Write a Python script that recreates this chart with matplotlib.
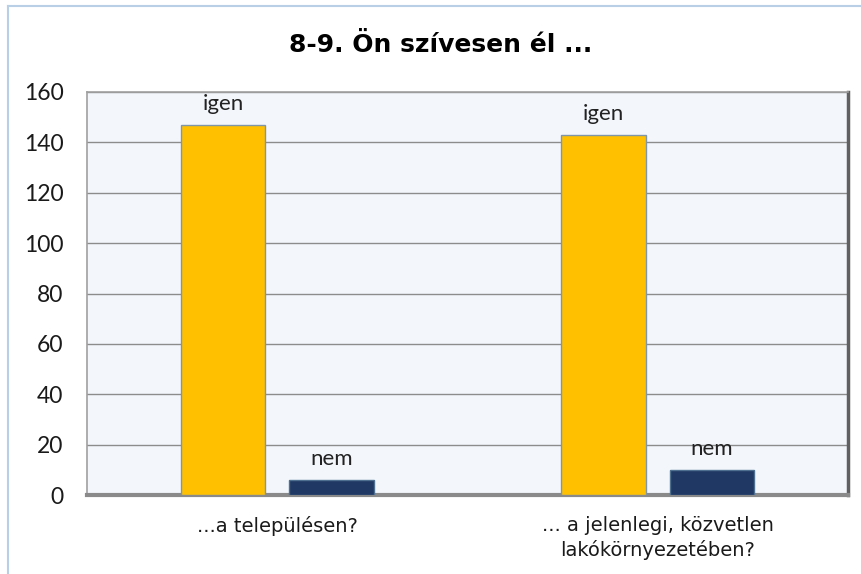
import matplotlib.pyplot as plt
from matplotlib.lines import Line2D
import numpy as np

# data
categories = ['...a településen?', '... a jelenlegi, közvetlen\nlakókörnyezetében?']
igen_values = [147, 143]
nem_values = [6, 10]
series_labels = ['igen', 'nem']
yticks = [0, 20, 40, 60, 80, 100, 120, 140, 160]

fig = plt.figure(figsize=(8.62, 5.74), dpi=100)
ax = fig.add_axes([87 / 862, 1 - 495 / 574, (848 - 87) / 862, (495 - 92) / 574])

x = np.arange(len(categories))
width = 0.222
off = 0.142

ax.set_facecolor('#f3f7fc')
ax.grid(axis='y', color='#8c8c8c', linewidth=1.0, zorder=0)
ax.set_axisbelow(True)

b1 = ax.bar(x - off, igen_values, width, color='#ffc000', edgecolor='#7f95a8',
            linewidth=1.0, zorder=3)
b2 = ax.bar(x + off, nem_values, width, color='#1f3864', edgecolor='#4f6f90',
            linewidth=1.0, zorder=3)

# labels above bars
for bars, lab in zip([b1, b2], series_labels):
    for r in bars:
        ax.annotate(lab, (r.get_x() + r.get_width() / 2, r.get_height()),
                    xytext=(0, 8), textcoords='offset points', ha='center', va='bottom',
                    fontsize=16, family='Lato', color='#222222', zorder=4)

ax.set_xlim(-0.5, 1.5)
ax.set_ylim(0, 160)
ax.set_yticks(yticks)
ax.set_yticklabels([str(v) for v in yticks], fontsize=16.5, family='Lato', color='#1a1a1a')
ax.set_xticks(x)
ax.set_xticklabels(categories, fontsize=14, family='DejaVu Sans', color='#1a1a1a',
                   linespacing=1.3)
ax.tick_params(axis='both', length=0)
ax.tick_params(axis='y', pad=17)
ax.tick_params(axis='x', pad=15)

for s in ['top', 'left']:
    ax.spines[s].set_color('#a0a0a0')
    ax.spines[s].set_linewidth(1.2)
ax.spines['right'].set_color('#606060')
ax.spines['right'].set_linewidth(2.5)
ax.spines['bottom'].set_color('#8a8a8a')
ax.spines['bottom'].set_linewidth(3)

fig.suptitle('8-9. Ön szívesen él ...', x=441 / 862, y=1 - 45 / 574, va='center',
             fontsize=18, fontweight='bold', family='DejaVu Sans')

# light blue frame of the chart object
fig.add_artist(Line2D([8 / 862, 8 / 862], [0, 1 - 6 / 574], transform=fig.transFigure,
                      color='#b8cfe6', linewidth=1.5))
fig.add_artist(Line2D([8 / 862, 1], [1 - 6 / 574, 1 - 6 / 574], transform=fig.transFigure,
                      color='#b8cfe6', linewidth=1.5))

fig.savefig('out.png', dpi=100)
